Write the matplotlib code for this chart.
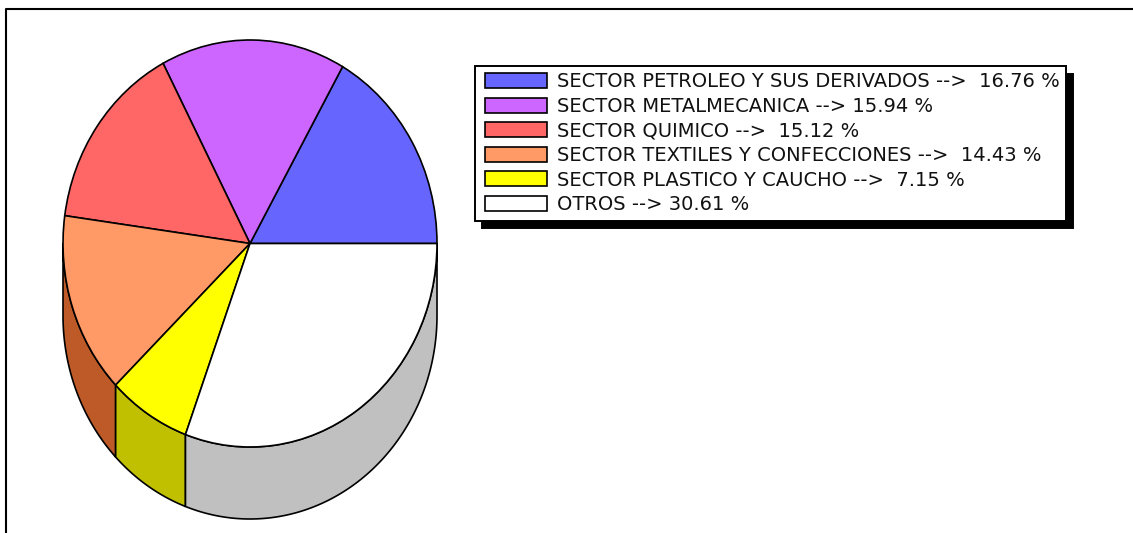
import numpy as np
import matplotlib
matplotlib.use("Agg")
import matplotlib.pyplot as plt
from matplotlib.lines import Line2D
from matplotlib.patches import Wedge
from matplotlib.legend_handler import HandlerPatch

sectors = ["SECTOR PETROLEO Y SUS DERIVADOS", "SECTOR METALMECANICA", "SECTOR QUIMICO",
           "SECTOR TEXTILES Y CONFECCIONES", "SECTOR PLASTICO Y CAUCHO", "OTROS"]
shares = [16.76, 15.94, 15.12, 14.43, 7.15, 30.61]
top_colors = ["#6666FF", "#CC66FF", "#FF6666", "#FF9966", "#FFFF00", "#FFFFFF"]
side_colors = ["#4C4CBF", "#9A4CBF", "#BF4C4C", "#BD5A28", "#C0C000", "#C0C0C0"]
label_gaps = ["  ", " ", "  ", "  ", "  ", " "]

W, H = 1133, 533
CX, CY, RX, RY, DEPTH = 250, 243.5, 187, 203.5, 72

plt.rcParams["font.family"] = ["DejaVu Sans"]
fig = plt.figure(figsize=(W / 100, H / 100), dpi=100, facecolor="white")
ax = fig.add_axes([0, 0, 1, 1])

wedges, _ = ax.pie(shares, colors=top_colors, startangle=0, counterclock=True,
                   wedgeprops=dict(edgecolor="black", linewidth=1.2, zorder=3))
ax.set_aspect("auto")
ax.set_xlim(-CX / RX, (W - CX) / RX)
ax.set_ylim((CY - H) / RY, CY / RY)
ax.axis("off")

# side wall of the lower half of the disc
edges = np.concatenate([[0], np.cumsum(shares)]) / np.sum(shares) * 360
d = DEPTH / RY
for a0, a1, c in zip(edges[:-1], edges[1:], side_colors):
    lo, hi = max(a0, 180), min(a1, 360)
    if hi <= lo:
        continue
    t = np.radians(np.linspace(lo, hi, 120))
    xs = np.concatenate([np.cos(t), np.cos(t[::-1])])
    ys = np.concatenate([np.sin(t), np.sin(t[::-1]) - d])
    ax.fill(xs, ys, facecolor=c, edgecolor="black", linewidth=1.2, zorder=1)

labels = [f"{s} -->{g}{v:.2f} %" for s, v, g in zip(sectors, shares, label_gaps)]
fs = 14.0
leg = ax.legend(wedges, labels, loc="upper left", mode="expand",
                bbox_to_anchor=(474.5 / W, 1 - 222 / H, 591.5 / W, 156 / H),
                bbox_transform=fig.transFigure,
                borderaxespad=0, fontsize=fs, fancybox=False, framealpha=1,
                edgecolor="black", facecolor="white",
                shadow=dict(ox=5.2, oy=-5.7, color="black", alpha=1),
                handler_map={Wedge: HandlerPatch(xpad=0.21)},
                handlelength=3.39, handleheight=0.82, handletextpad=0.51,
                labelspacing=0.285, borderpad=0.33)
leg.get_frame().set_linewidth(1.4)
for t in leg.get_texts():
    t.set_color("#111111")

# open frame: only the top and left edges are visible
fig.add_artist(Line2D([6 / W, 6 / W, 1], [0, 1 - 9 / H, 1 - 9 / H], transform=fig.transFigure,
                      color="black", linewidth=1.5))

fig.savefig("out.png", dpi=100, facecolor="white")
